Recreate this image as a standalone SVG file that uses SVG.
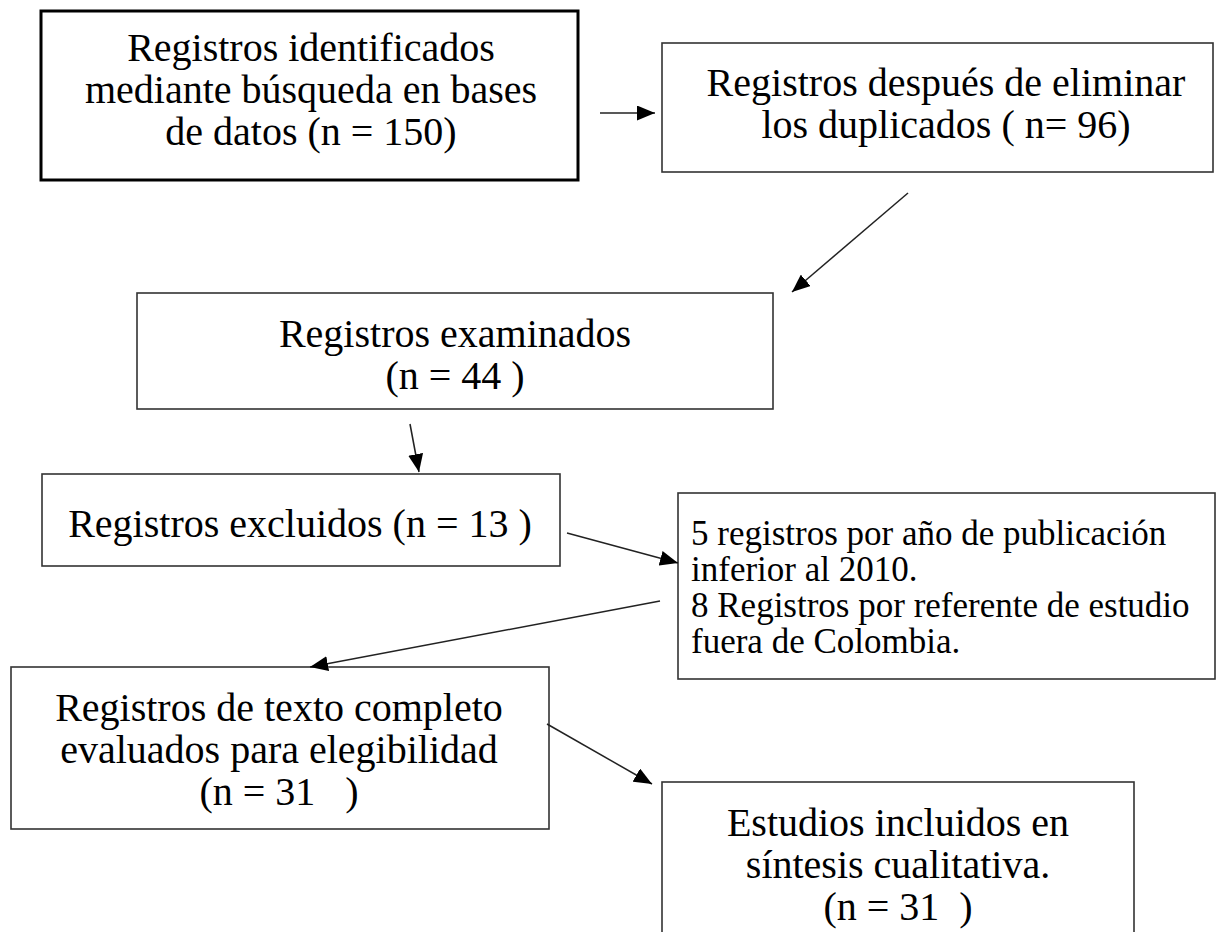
<svg xmlns="http://www.w3.org/2000/svg" width="1225" height="932" viewBox="0 0 1225 932">
<style>
.box{fill:#fff;stroke:#333;stroke-width:1.6}
.thick{fill:#fff;stroke:#000;stroke-width:3}
.t{font-family:"Liberation Serif","Times New Roman",serif;font-size:40px;fill:#000;text-anchor:middle;white-space:pre}
.s{font-family:"Liberation Serif","Times New Roman",serif;font-size:35px;fill:#000;white-space:pre}
.c{stroke:#222;stroke-width:1.5;fill:none;marker-end:url(#ah)}
</style>
<defs>
<marker id="ah" markerUnits="userSpaceOnUse" markerWidth="19" markerHeight="15" refX="18" refY="7.5" orient="auto">
<path d="M0,0 L18,7.5 L0,15 z" fill="#000"/>
</marker>
</defs>
<rect width="1225" height="932" fill="#fff"/>
<g id="n1">
<rect class="thick" x="41" y="11" width="537" height="169"/>
<text class="t" x="311" y="61">Registros identificados</text>
<text class="t" x="311" y="103">mediante búsqueda en bases</text>
<text class="t" x="311" y="145">de datos (n = 150)</text>
</g>
<g id="n2">
<rect class="box" x="662" y="43" width="551" height="129"/>
<text class="t" x="946" y="96">Registros después de eliminar</text>
<text class="t" x="946" y="138">los duplicados ( n= 96)</text>
</g>
<g id="n3">
<rect class="box" x="137" y="293" width="636" height="116"/>
<text class="t" x="455" y="347">Registros examinados</text>
<text class="t" x="455" y="389">(n = 44 )</text>
</g>
<g id="n4">
<rect class="box" x="42" y="474" width="518" height="92"/>
<text class="t" x="300" y="537">Registros excluidos (n = 13 )</text>
</g>
<g id="n5">
<rect class="box" x="678" y="493" width="537" height="186"/>
<text class="s" x="691" y="545">5 registros por año de publicación</text>
<text class="s" x="691" y="581">inferior al 2010.</text>
<text class="s" x="691" y="617">8 Registros por referente de estudio</text>
<text class="s" x="691" y="653">fuera de Colombia.</text>
</g>
<g id="n6">
<rect class="box" x="11" y="667" width="538" height="162"/>
<text class="t" x="279" y="721">Registros de texto completo</text>
<text class="t" x="279" y="763">evaluados para elegibilidad</text>
<text class="t" x="279" y="805">(n = 31   )</text>
</g>
<g id="n7">
<rect class="box" x="662" y="782" width="472" height="160"/>
<text class="t" x="898" y="836">Estudios incluidos en</text>
<text class="t" x="898" y="878">síntesis cualitativa.</text>
<text class="t" x="898" y="920">(n = 31  )</text>
</g>
<g id="connectors">
<line class="c" x1="600" y1="113" x2="655" y2="113"/>
<line class="c" x1="908" y1="193" x2="792" y2="292"/>
<line class="c" x1="410" y1="424" x2="419" y2="472"/>
<line class="c" x1="567" y1="533" x2="678" y2="563"/>
<line class="c" x1="660" y1="601" x2="310" y2="667"/>
<line class="c" x1="547" y1="724" x2="652" y2="784"/>
</g>
</svg>
